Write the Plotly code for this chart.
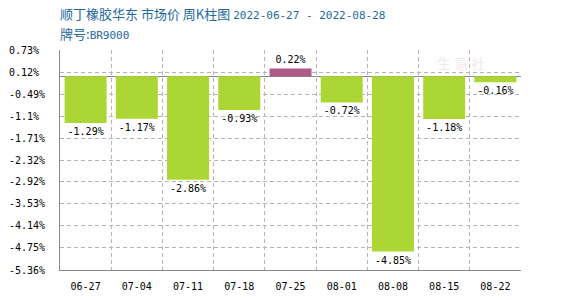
import plotly.graph_objects as go

weeks = ["06-27", "07-04", "07-11", "07-18", "07-25", "08-01", "08-08", "08-15", "08-22"]
changes = [-1.29, -1.17, -2.86, -0.93, 0.22, -0.72, -4.85, -1.18, -0.16]
y_ticks = [0.73, 0.12, -0.49, -1.1, -1.71, -2.32, -2.92, -3.53, -4.14, -4.75, -5.36]
y_tick_labels = [(f"{v}%").ljust(6, "\u00a0") for v in y_ticks]

colors = ["#b05b85" if v > 0 else "#acd634" for v in changes]
xpos = list(range(len(weeks)))
boundaries = [i + 0.5 for i in xpos]

mono = "DejaVu Sans Mono"
grid = "#b4b4b4"
fig = go.Figure()
fig.add_trace(go.Bar(
    x=xpos, y=changes, width=0.82,
    marker=dict(color=colors, line=dict(width=0)),
    text=[f"{v}%" for v in changes], textposition="outside",
    textfont=dict(family=mono, size=10, color="#000"),
    cliponaxis=False, hoverinfo="skip",
))
# helper trace so the boundary-grid axis is drawn
fig.add_trace(go.Scatter(
    x=[xpos[0]], y=[0], xaxis="x2", mode="markers",
    marker=dict(opacity=0), hoverinfo="skip", showlegend=False,
))

xr = [-0.5, len(weeks) - 0.5]
fig.update_layout(
    width=570, height=300,
    margin=dict(l=60, r=49, t=50, b=30),
    plot_bgcolor="white", paper_bgcolor="white",
    showlegend=False,
    xaxis=dict(
        range=xr,
        tickvals=xpos, ticktext=weeks,
        tickfont=dict(family=mono, size=10, color="#000"),
        showgrid=False, zeroline=False,
        showline=True, linecolor="#888", linewidth=1,
        ticks="", ticklabelstandoff=7,
        fixedrange=True, automargin=False,
    ),
    xaxis2=dict(
        overlaying="x", side="bottom", range=xr,
        tickvals=boundaries, showticklabels=False, ticks="",
        showgrid=True, gridcolor=grid, griddash="4px,3px", gridwidth=1,
        zeroline=False, showline=False,
        fixedrange=True, automargin=False,
    ),
    yaxis=dict(
        range=[y_ticks[-1], y_ticks[0]],
        tickvals=y_ticks, ticktext=y_tick_labels,
        tickfont=dict(family=mono, size=10, color="#000"),
        showgrid=True, gridcolor=grid, griddash="4px,3px", gridwidth=1,
        zeroline=True, zerolinecolor="#888", zerolinewidth=1,
        showline=True, linecolor="#888", linewidth=1,
        ticks="", ticklabelstandoff=12,
        fixedrange=True, automargin=False,
    ),
)

title_html = ("顺丁橡胶华东 市场价 周K柱图 "
              "<span style='font-family:DejaVu Sans Mono;font-size:11px'>2022-06-27 - 2022-08-28</span>")
fig.add_annotation(
    xref="paper", yref="paper", x=0.0, y=1.0, yshift=37,
    xanchor="left", yanchor="middle", xshift=-2,
    text=title_html, showarrow=False,
    font=dict(family="Noto Sans CJK SC", size=13, color="#24689c"),
)
fig.add_annotation(
    xref="paper", yref="paper", x=0.0, y=1.0, yshift=17,
    xanchor="left", yanchor="middle", xshift=-2,
    text="牌号:<span style='font-family:DejaVu Sans Mono;font-size:11px'>BR9000</span>",
    showarrow=False,
    font=dict(family="Noto Sans CJK SC", size=13, color="#24689c"),
)
# faint watermark
fig.add_annotation(
    xref="paper", yref="paper", x=0.87, y=0.94, xanchor="center", yanchor="middle",
    text="生 意 社", showarrow=False,
    font=dict(family="Noto Sans CJK SC", size=14, color="#f3e8e8"),
)

fig.write_html("out.html")
